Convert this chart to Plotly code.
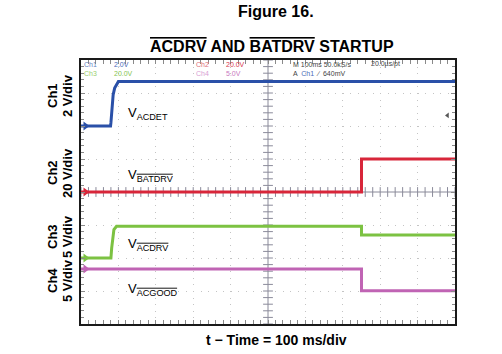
import plotly.graph_objects as go

# ---------------- data (time in ms, voltages in V) ----------------
t_ch1 = [0, 79, 80, 86, 90, 95, 100, 1000]
v_ch1 = [0, 0, 0.2, 1.9, 2.3, 2.55, 2.7, 2.7]

t_ch2 = [0, 750, 750, 1000]
v_ch2 = [0, 0, 20, 20]

t_ch3 = [0, 80, 82, 88, 95, 750, 750, 1000]
v_ch3 = [0, 0, 1.5, 4.3, 4.8, 4.8, 3.5, 3.5]

t_ch4 = [0, 750, 750, 1000]
v_ch4 = [0, 0, -3.3, -3.3]

channels = ["Ch1", "Ch2", "Ch3", "Ch4"]
volts_per_div = [2, 20, 5, 5]
ground_div = [6, 4, 2, 1.67]          # ground position in divisions from bottom
colors = ["#2a50a8", "#d8263a", "#7cc242", "#c064b4"]
trigger_level = 0.64                  # V on Ch1

W, H = 502, 354
L, R, T, B = 81, 455, 60, 324
FONT = "Liberation Sans, Arial, sans-serif"


def px(xp):
    return (xp - L) / (R - L)


def py(yp):
    return (B - yp) / (B - T)


fig = go.Figure()

# centre crosshair tick marks (main axes, in divisions)
xt = [i * 20 for i in range(51)]
fig.add_trace(go.Scatter(x=xt, y=[4] * len(xt), mode="markers",
                         marker=dict(symbol="line-ns", size=7,
                                     line=dict(color="#8a8a9a", width=1)),
                         hoverinfo="skip"))
yt = [i * 0.2 for i in range(41)]
fig.add_trace(go.Scatter(x=[500] * len(yt), y=yt, mode="markers",
                         marker=dict(symbol="line-ew", size=7,
                                     line=dict(color="#8a8a9a", width=1)),
                         hoverinfo="skip"))

data = [(t_ch1, v_ch1), (t_ch2, v_ch2), (t_ch3, v_ch3), (t_ch4, v_ch4)]
for i, (t, v) in enumerate(data):
    ya = "y%d" % (i + 2)
    fig.add_trace(go.Scatter(x=t, y=v, mode="lines", yaxis=ya,
                             line=dict(color=colors[i], width=3),
                             hoverinfo="skip"))
    fig.add_trace(go.Scatter(x=[12], y=[0], mode="markers", yaxis=ya,
                             cliponaxis=False,
                             marker=dict(symbol="triangle-right", size=8,
                                         color=colors[i]),
                             hoverinfo="skip"))

# trigger level marker
fig.add_trace(go.Scatter(x=[980], y=[trigger_level], mode="markers", yaxis="y2",
                         marker=dict(symbol="triangle-left", size=5, color="#555"),
                         hoverinfo="skip"))

# centre lines
fig.add_shape(type="line", x0=500, x1=500, y0=0, y1=8, xref="x", yref="y",
              line=dict(color="#8a8a9a", width=1), layer="below")
fig.add_shape(type="line", x0=0, x1=1000, y0=4, y1=4, xref="x", yref="y",
              line=dict(color="#8a8a9a", width=1), layer="below")

axis_common = dict(showgrid=True, gridcolor="#c4c4c4", gridwidth=1,
                   zeroline=False, showline=True, linecolor="#1a1a1a",
                   linewidth=2, mirror="allticks", ticks="inside", ticklen=4,
                   tickcolor="#8a8a8a", showticklabels=False, fixedrange=True)

layout = dict(
    width=W, height=H,
    margin=dict(l=L, r=W - R, t=T, b=H - B, pad=0),
    paper_bgcolor="white", plot_bgcolor="white", showlegend=False,
    xaxis=dict(range=[0, 1000], dtick=100, tick0=0, griddash="1px,5.6px",
               minor=dict(dtick=20, ticks="inside", ticklen=3,
                          tickcolor="#8a8a8a", showgrid=False),
               **axis_common),
    yaxis=dict(range=[0, 8], dtick=1, tick0=0, griddash="1px,6.48px",
               minor=dict(dtick=0.2, ticks="inside", ticklen=3,
                          tickcolor="#8a8a8a", showgrid=False),
               **axis_common),
)
for i in range(4):
    s, g = volts_per_div[i], ground_div[i]
    layout["yaxis%d" % (i + 2)] = dict(overlaying="y", visible=False,
                                       range=[-g * s, (8 - g) * s],
                                       fixedrange=True)
fig.update_layout(**layout)

ann = []


def add_text(text, xp, yp, size, color="black", xanchor="center",
             yanchor="middle", angle=0, align="center"):
    ann.append(dict(text=text, x=px(xp), y=py(yp), xref="paper", yref="paper",
                    showarrow=False, xanchor=xanchor, yanchor=yanchor,
                    textangle=angle, borderpad=0, align=align,
                    font=dict(family=FONT, size=size, color=color)))


OL = "<span style='text-decoration:overline'>%s</span>"


def c(txt, col):
    return "<span style='color:%s'>%s</span>" % (col, txt)


add_text("<b>Figure 16.</b>", 276, 11, 16)
add_text("<b>" + OL % "ACDRV" + " AND " + OL % "BATDRV" + " STARTUP</b>",
         272, 46, 16)
add_text("<b>t \u2212 Time = 100 ms/div</b>", 276, 340, 14)

# side labels
side_y = [96, 173, 237, 281]
for i in range(4):
    add_text("<b>%s</b>" % channels[i], 52, side_y[i], 13, angle=-90)
    add_text("<b>%g V/div</b>" % volts_per_div[i], 67, side_y[i], 13, angle=-90)

# scope header (two rows per column block)
hs = 7
hy = 68.5
add_text(c("Ch1", "#6a84c4") + "<br>" + c("Ch3", "#9ad070"), 83, hy, hs,
         xanchor="left", align="left")
add_text(c("2.0V", "#4a6ab8") + "<br>" + c("20.0V", "#86c450"), 113, hy, hs,
         xanchor="left", align="left")
add_text(c("Ch2", "#e0707a") + "<br>" + c("Ch4", "#d8a0d4"), 195, hy, hs,
         xanchor="left", align="left")
add_text(c("20.0V", "#d8364a") + "<br>" + c("5.0V", "#c878c0"), 225, hy, hs,
         xanchor="left", align="left")
add_text(c("M 100ms 50.0kS/s", "#444") + "<br>" + c("A  ", "#444")
         + c("Ch1", "#4a6ab8") + c("  \u2215  640mV", "#444"), 292, hy, hs,
         xanchor="left", align="left")
add_text("20.0\u00b5s/pt", 370, 64, hs, "#444", "left")

# trace labels
add_text("V<sub>ACDET</sub>", 127, 113, 13, "black", "left")
add_text("V<sub>" + OL % "BATDRV" + "</sub>", 127, 175, 13, "black", "left")
add_text("V<sub>" + OL % "ACDRV" + "</sub>", 127, 244, 13, "black", "left")
add_text("V<sub>" + OL % "ACGOOD" + "</sub>", 127, 289, 13, "black", "left")

fig.update_layout(annotations=ann)
fig.write_html("out.html")
